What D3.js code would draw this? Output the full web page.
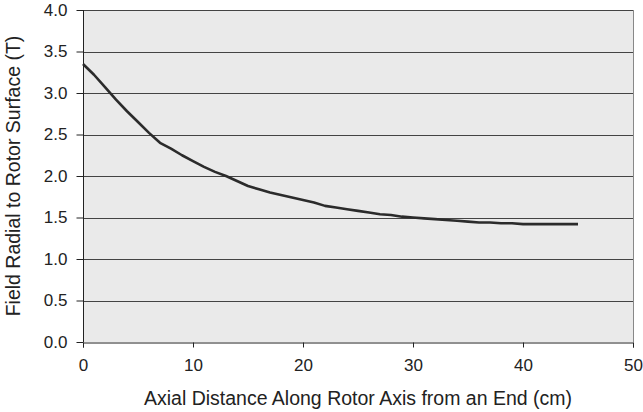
<!DOCTYPE html>
<html>
<head>
<meta charset="utf-8">
<script src="https://cdn.jsdelivr.net/npm/d3@7"></script>
<style>
  html, body { margin: 0; padding: 0; background: #fff; }
  svg { display: block; font-family: "Liberation Sans", Arial, sans-serif; }
</style>
</head>
<body>
<svg id="chart" width="643" height="412"></svg>
<script>
// Axial distance from the rotor end (cm)
const distanceCm = [0, 1, 2, 3, 4, 5, 6, 7, 8, 9, 10, 11, 12, 13, 14, 15, 16, 17, 18, 19, 20,
  21, 22, 23, 24, 25, 26, 27, 28, 29, 30, 31, 32, 33, 34, 35, 36, 37, 38, 39, 40,
  41, 42, 43, 44, 45];
// Field radial to the rotor surface (T)
const fieldT = [3.35, 3.22, 3.07, 2.92, 2.78, 2.65, 2.52, 2.40, 2.33, 2.25, 2.18,
  2.11, 2.05, 2.00, 1.94, 1.88, 1.84, 1.80, 1.77, 1.74, 1.71,
  1.68, 1.64, 1.62, 1.60, 1.58, 1.56, 1.54, 1.53, 1.51, 1.50,
  1.49, 1.48, 1.47, 1.46, 1.45, 1.44, 1.44, 1.43, 1.43, 1.42,
  1.42, 1.42, 1.42, 1.42, 1.42];
const xTicks = [0, 10, 20, 30, 40, 50];
const yTicks = [0, 0.5, 1.0, 1.5, 2.0, 2.5, 3.0, 3.5, 4.0];
const xTitle = "Axial Distance Along Rotor Axis from an End (cm)";
const yTitle = "Field Radial to Rotor Surface (T)";

const svg = d3.select("#chart");
const margin = { left: 83, right: 10, top: 10, bottom: 70 };
const W = 643, H = 412;
const x = d3.scaleLinear().domain([0, 50]).range([margin.left, W - margin.right]);
const y = d3.scaleLinear().domain([0, 4]).range([H - margin.bottom, margin.top]);

// plot background
svg.append("rect")
  .attr("x", x(0)).attr("y", y(4))
  .attr("width", x(50) - x(0)).attr("height", y(0) - y(4))
  .attr("fill", "#eaeaea");

// horizontal gridlines
svg.append("g").selectAll("line").data(yTicks.filter(d => d > 0)).join("line")
  .attr("x1", x(0)).attr("x2", x(50))
  .attr("y1", d => Math.round(y(d)) + 0.5).attr("y2", d => Math.round(y(d)) + 0.5)
  .attr("stroke", "#444").attr("stroke-width", 1);

// right border
svg.append("line")
  .attr("x1", Math.round(x(50)) + 0.5).attr("x2", Math.round(x(50)) + 0.5)
  .attr("y1", y(4)).attr("y2", y(0))
  .attr("stroke", "#888");

// axes
const xAxis = d3.axisBottom(x).tickValues(xTicks).tickFormat(d3.format("d")).tickSize(5).tickPadding(11);
const yAxis = d3.axisLeft(y).tickValues(yTicks).tickFormat(d3.format(".1f")).tickSize(7).tickPadding(9);

const gx = svg.append("g").attr("transform", `translate(0,${Math.round(y(0)) + 0.5})`).call(xAxis);
const gy = svg.append("g").attr("transform", `translate(${Math.round(x(0)) + 0.5},0)`).call(yAxis);
[gx, gy].forEach(g => {
  g.select(".domain").attr("stroke", "#222");
  g.selectAll(".tick line").attr("stroke", "#222");
  g.selectAll(".tick text").attr("fill", "#222")
    .style("font-family", "Liberation Sans, Arial, sans-serif").style("font-size", "17px");
});
gy.select(".domain").attr("d", `M0,${y(4)}V${y(0)}`);

// curve
const line = d3.line().x((d, i) => x(distanceCm[i])).y(d => y(d));
svg.append("path")
  .datum(fieldT)
  .attr("d", line)
  .attr("fill", "none")
  .attr("stroke", "#2b2b2b")
  .attr("stroke-width", 2.6)
  .attr("stroke-linejoin", "round");

// axis titles
svg.append("text")
  .attr("x", (x(0) + x(50)) / 2).attr("y", 405)
  .attr("text-anchor", "middle")
  .attr("fill", "#222").style("font-size", "19.5px")
  .text(xTitle);
svg.append("text")
  .attr("transform", `translate(20,${(y(0) + y(4)) / 2}) rotate(-90)`)
  .attr("text-anchor", "middle")
  .attr("fill", "#222").style("font-size", "19.5px")
  .text(yTitle);
</script>
</body>
</html>
